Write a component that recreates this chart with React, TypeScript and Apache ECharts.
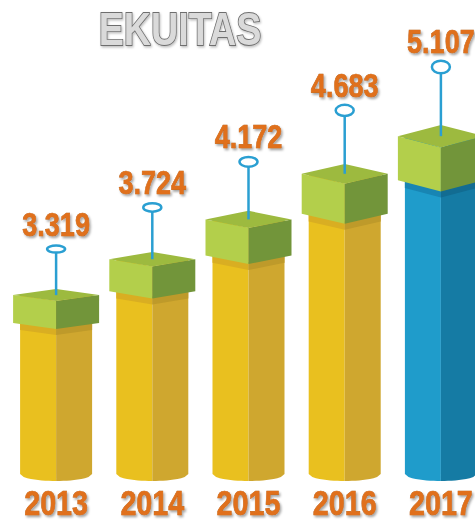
import React, { useEffect, useRef } from 'react';
import * as echarts from 'echarts';

const titleText = 'EKUITAS';
const years = ['2013', '2014', '2015', '2016', '2017'];
const equity = [3.319, 3.724, 4.172, 4.683, 5.107];
const valueLabels = ['3.319', '3.724', '4.172', '4.683', '5.107'];

function fontAvailable(name: string): boolean {
  try {
    const ctx = document.createElement('canvas').getContext('2d');
    if (!ctx) return false;
    const sample = '2013 EKUITAS 4.683';
    ctx.font = 'bold 40px monospace';
    const a = ctx.measureText(sample).width;
    ctx.font = `bold 40px "${name}", monospace`;
    const b = ctx.measureText(sample).width;
    return Math.abs(a - b) > 0.5;
  } catch (e) {
    return false;
  }
}

export default function App() {
  const ref = useRef<HTMLDivElement>(null);

  useEffect(() => {
    if (!ref.current) return;
    const narrow = fontAvailable('Liberation Sans Narrow');
    const FAMILY = narrow
      ? '"Liberation Sans Narrow", "Arial Narrow", sans-serif'
      : '"Liberation Sans", Arial, sans-serif';
    const SX = narrow ? 1 : 0.82;

    const chart = echarts.init(ref.current, null, { renderer: 'svg' });

    const renderItem = (params: any, api: any) => {
      const i = params.dataIndex;
      const v = api.value(1);
      const pt = api.coord([api.value(0), v]);
      const cx = pt[0];
      const T = pt[1];
      const cs = params.coordSys;
      const base = cs.y + cs.height - 25;
      const last = i === years.length - 1;

      const colL = last ? '#1F9CCB' : '#E9C01F';
      const colR = last ? '#157BA4' : '#CFA72F';
      const bandL = last ? '#1885B3' : '#D9AE22';
      const bandR = last ? '#126C92' : '#BE9A2A';

      const hw = 43; // cube half width
      const cw = 36; // column half width
      const d = 6 + 1.3 * i; // top face depth
      const h = 28 + 4 * i; // cube side height
      const pinLen = 40 + 4.5 * i;
      const ry = 3.5 + 0.7 * i;
      const ringY = T - pinLen;

      const yc = base - 3;
      const er = 7;
      const leftPts: number[][] = [];
      const rightPts: number[][] = [];
      const N = 10;
      for (let k = 0; k <= N; k++) {
        const t = k / N;
        const dx = cw * (1 - t);
        const y = yc + er * Math.sqrt(Math.max(0, 1 - (dx / cw) * (dx / cw)));
        leftPts.push([cx - dx, y]);
      }
      for (let k = N; k >= 0; k--) {
        const t = k / N;
        const dx = cw * (1 - t);
        const y = yc + er * Math.sqrt(Math.max(0, 1 - (dx / cw) * (dx / cw)));
        rightPts.push([cx + dx, y]);
      }
      const colTopSide = T + d;
      const colTopFront = T + 2 * d;
      const leftFace = [[cx - cw, colTopSide], [cx, colTopFront]].concat(
        leftPts.slice().reverse()
      );
      const rightFace = [[cx, colTopFront], [cx + cw, colTopSide]].concat(
        rightPts.slice().reverse()
      );

      const ybSide = T + d + h + (d * (hw - cw)) / hw;
      const ybFront = T + 2 * d + h;
      const bh = 6;
      const bandLeft = [
        [cx - cw, ybSide - 2],
        [cx, ybFront - 2],
        [cx, ybFront + bh],
        [cx - cw, ybSide + bh],
      ];
      const bandRight = [
        [cx, ybFront - 2],
        [cx + cw, ybSide - 2],
        [cx + cw, ybSide + bh],
        [cx, ybFront + bh],
      ];

      const topFace = [
        [cx - hw, T + d],
        [cx, T],
        [cx + hw, T + d],
        [cx, T + 2 * d],
      ];
      const cubeL = [
        [cx - hw, T + d],
        [cx, T + 2 * d],
        [cx, T + 2 * d + h],
        [cx - hw, T + d + h],
      ];
      const cubeR = [
        [cx, T + 2 * d],
        [cx + hw, T + d],
        [cx + hw, T + d + h],
        [cx, T + 2 * d + h],
      ];

      const labelStyle = {
        fill: '#E0701A',
        stroke: '#B4550E',
        lineWidth: 0.6,
        textAlign: 'center',
        textVerticalAlign: 'middle',
        align: 'center',
        verticalAlign: 'middle',
        textShadowColor: 'rgba(0,0,0,0.35)',
        textShadowBlur: 2,
        textShadowOffsetX: 1.5,
        textShadowOffsetY: 2,
      };

      return {
        type: 'group',
        children: [
          { type: 'polygon', shape: { points: leftFace }, style: { fill: colL } },
          { type: 'polygon', shape: { points: rightFace }, style: { fill: colR } },
          { type: 'polygon', shape: { points: bandLeft }, style: { fill: bandL } },
          { type: 'polygon', shape: { points: bandRight }, style: { fill: bandR } },
          { type: 'polygon', shape: { points: cubeL }, style: { fill: '#B3CF4B' } },
          { type: 'polygon', shape: { points: cubeR }, style: { fill: '#72953A' } },
          { type: 'polygon', shape: { points: topFace }, style: { fill: '#9DBA3F' } },
          {
            type: 'line',
            shape: { x1: cx, y1: T + d, x2: cx, y2: ringY + ry },
            style: { stroke: '#2A9FD2', lineWidth: 2.5 },
          },
          {
            type: 'ellipse',
            shape: { cx: cx, cy: ringY, rx: 9, ry: ry },
            style: { fill: '#ffffff', stroke: '#2A9FD2', lineWidth: 2.5 },
          },
          {
            type: 'text',
            x: cx,
            y: ringY - 25,
            scaleX: SX,
            style: {
              text: valueLabels[i],
              font: `bold 33px ${FAMILY}`,
              ...labelStyle,
            },
          },
          {
            type: 'text',
            x: cx,
            y: base + 26,
            scaleX: SX,
            style: {
              text: years[i],
              font: `bold 35px ${FAMILY}`,
              ...labelStyle,
            },
          },
        ],
      };
    };

    chart.setOption({
      animation: false,
      grid: {
        left: 8,
        top: 43,
        width: 481,
        height: 459,
        outerBoundsMode: 'none',
        containLabel: false,
      },
      xAxis: { type: 'category', data: years, show: false },
      yAxis: { type: 'value', min: 1, max: 6, show: false },
      graphic: [
        {
          type: 'text',
          x: 180,
          y: 29,
          scaleX: SX,
          style: {
            text: titleText,
            font: `bold 46px ${FAMILY}`,
            fill: '#DADADA',
            stroke: '#6E6E6E',
            lineWidth: 1.8,
            textAlign: 'center',
            textVerticalAlign: 'middle',
            align: 'center',
            verticalAlign: 'middle',
            textShadowColor: 'rgba(0,0,0,0.25)',
            textShadowBlur: 2,
            textShadowOffsetX: 1,
            textShadowOffsetY: 1.5,
          },
        },
      ],
      series: [
        {
          type: 'custom',
          renderItem: renderItem,
          clip: false,
          data: equity.map((v, i) => [i, v]),
        },
      ],
    });

    return () => chart.dispose();
  }, []);

  return (
    <div
      ref={ref}
      style={{ position: 'fixed', left: 0, top: 0, width: 475, height: 525 }}
    />
  );
}
